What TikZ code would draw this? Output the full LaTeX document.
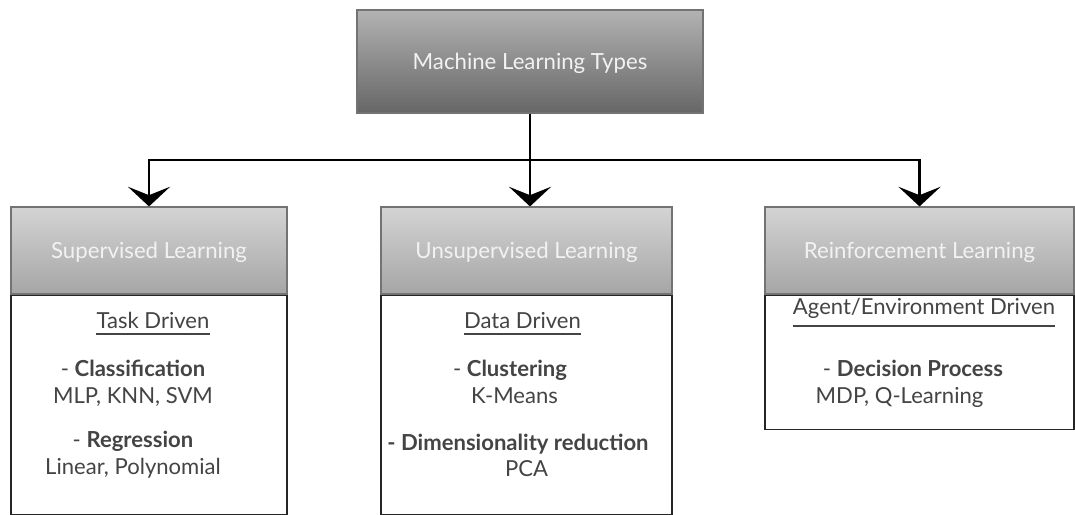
\documentclass[tikz,border=0pt]{standalone}
\usepackage{fontspec}
\setmainfont{Lato}
\usetikzlibrary{positioning,arrows.meta}
\definecolor{bodytext}{HTML}{444444}

\begin{document}
\begin{tikzpicture}[
    rootbox/.style={draw=black!55, line width=0.8pt, top color=black!30, bottom color=black!60, minimum width=8.65cm, minimum height=2.575cm, text=white!95!black, font=\fontsize{15.8}{19}\selectfont, text depth=0pt},
    headbox/.style={draw=black!55, line width=0.8pt, top color=black!17, bottom color=black!35, minimum height=2.175cm, text=white!95!black, font=\fontsize{15.8}{19}\selectfont, text depth=0pt},
    bodybox/.style={draw=black!85, line width=1.2pt, fill=white, anchor=north},
    item/.style={font=\fontsize{15.7}{19}\selectfont, text=bodytext, anchor=base, inner sep=0pt},
    uline/.style={draw=bodytext, line width=1pt},
    link/.style={line width=2.1pt, -{Stealth[length=14pt, width=30pt, inset=6pt]}}
]

\useasboundingbox (0,0) rectangle (26.875,-12.875);

% Root
\node[rootbox] (mlt) at (13.25,-1.5375) {Machine Learning Types};
\coordinate (bus) at (13.25,-4.0);

% Supervised
\begin{scope}[shift={(3.725,0)}]
    \node[headbox, minimum width=6.9cm] (sup) at (0,-6.2625) {Supervised Learning};
    \node[bodybox, minimum width=6.9cm, minimum height=5.475cm] (supbody) at (sup.south) {};

    \node[item] (task) at (0.1,-8.2) {Task Driven};
    \draw[uline] ([yshift=-0.15cm]task.base west) -- ([yshift=-0.15cm]task.base east);

    \node[item] (cls) at (-0.4,-9.4) {- \textbf{Classification}};
    \node[item] (clsex) at (-0.4,-10.075) {MLP, KNN, SVM};
    \node[item] (reg) at (-0.4,-11.175) {- \textbf{Regression}};
    \node[item] (regex) at (-0.4,-11.85) {Linear, Polynomial};
\end{scope}

% Unsupervised
\begin{scope}[shift={(13.1625,0)}]
    \node[headbox, minimum width=7.275cm] (uns) at (0,-6.2625) {Unsupervised Learning};
    \node[bodybox, minimum width=7.275cm, minimum height=5.475cm] (unsbody) at (uns.south) {};

    \node[item] (data) at (-0.1,-8.2) {Data Driven};
    \draw[uline] ([yshift=-0.15cm]data.base west) -- ([yshift=-0.15cm]data.base east);

    \node[item] (clu) at (-0.4125,-9.4) {- \textbf{Clustering}};
    \node[item] (cluex) at (-0.3,-10.075) {K-Means};
    \node[item] (dim) at (-0.2125,-11.25) {\textbf{- Dimensionality reduction}};
    \node[item] (dimex) at (0,-11.9) {PCA};
\end{scope}

% Reinforcement
\begin{scope}[shift={(22.9875,0)}]
    \node[headbox, minimum width=7.725cm] (rl) at (0,-6.2625) {Reinforcement Learning};
    \node[bodybox, minimum width=7.725cm, minimum height=3.35cm] (rlbody) at (rl.south) {};

    \node[item] (agent) at (0.1125,-7.85) {Agent/Environment Driven};
    \draw[uline] ([yshift=-0.3cm]agent.base west) -- ([yshift=-0.3cm]agent.base east);

    \node[item] (dec) at (-0.1625,-9.4) {- \textbf{Decision Process}};
    \node[item] (decex) at (-0.5,-10.075) {MDP, Q-Learning};
\end{scope}

% Links
\draw[link] (mlt.south) -- (bus) -| (sup.north);
\draw[link] (mlt.south) -- (mlt.south |- uns.north);
\draw[link] (mlt.south) -- (bus) -| (rl.north);

\end{tikzpicture}
\end{document}
